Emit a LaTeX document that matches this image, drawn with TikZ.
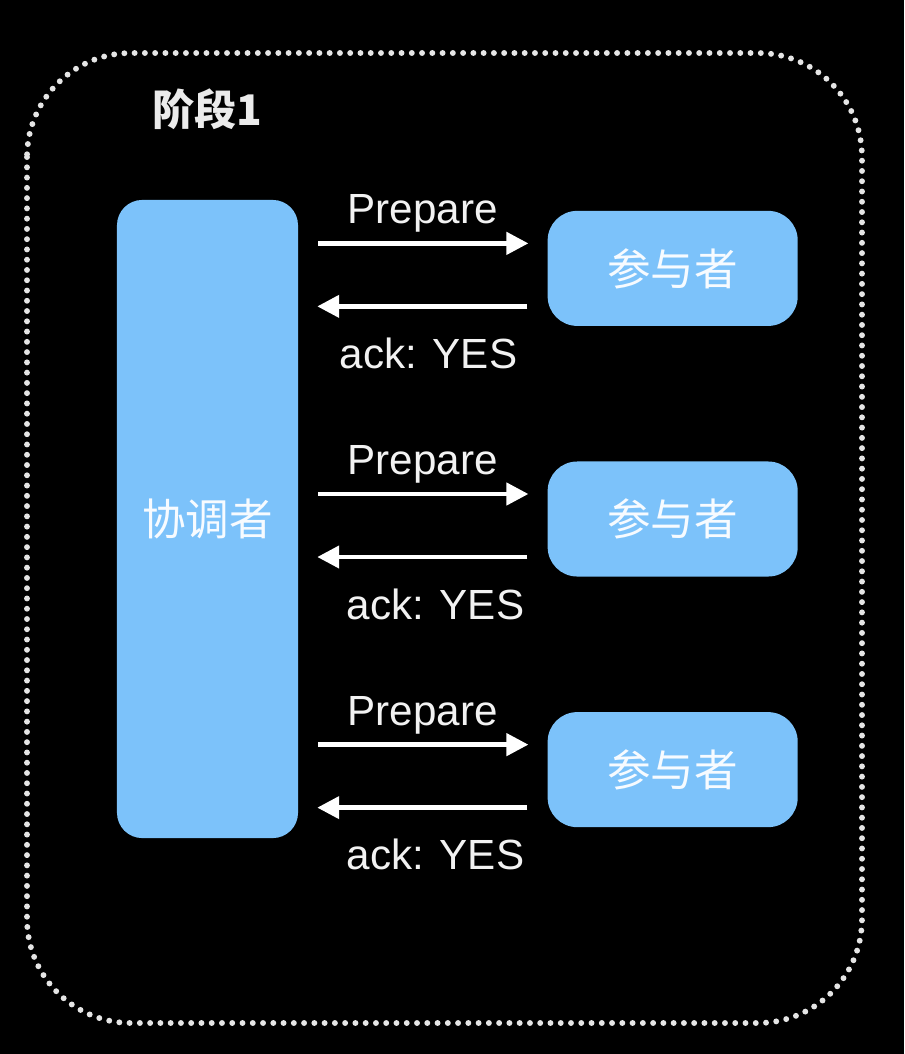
\documentclass[tikz,border=0pt]{standalone}
\usepackage{fontspec}
\setmainfont{Liberation Sans}
\newfontfamily\cjk{Noto Sans CJK SC}
\usepackage{tikz}
\usetikzlibrary{arrows.meta,positioning,calc}
\definecolor{boxblue}{RGB}{124,194,250}

\begin{document}
\begin{tikzpicture}[x=0.025cm, y=-0.025cm,
        actor/.style={fill=boxblue, inner sep=0pt, align=center,
                      text=white!94!boxblue, font=\cjk\fontsize{31}{36}\selectfont},
        coordinator/.style={actor, rounded corners=18pt, minimum width=4.525cm, minimum height=15.95cm},
        participant/.style={actor, rounded corners=21pt, minimum width=6.25cm, minimum height=2.875cm},
        title/.style={text=white!92!black, inner sep=0pt, font=\cjk\bfseries\fontsize{30}{36}\selectfont},
        msg/.style={white, line width=3.2pt, -{Triangle[length=15.6pt, width=15.6pt]},
                    shorten <=14.2pt, shorten >=13.5pt},
        lbl/.style={text=white!95!black, inner sep=0pt, font=\fontsize{30}{36}\selectfont},
        frame/.style={white!90!black, line width=4.2pt, line cap=round,
                      dash pattern=on 0pt off 7.3pt, rounded corners=74pt}
    ]
        \fill[black] (0,0) rectangle (904,1054);
        \draw[frame] (27,53) rectangle (862,1023);

        \node[coordinator] (coord) at (207.5,519) {协调者};
        \node[participant, right=6.225cm of coord] (p2) {参与者};
        \node[participant, above=3.375cm of p2] (p1) {参与者};
        \node[participant, below=3.375cm of p2] (p3) {参与者};
        \node[title, above=1.75cm of coord] (stage) {阶段1};

        % prepare / ack for each participant
        \foreach \i/\dx in {1/4pt, 2/9pt, 3/9pt} {
            \draw[msg] ($(coord.east |- p\i.west)+(0,-25)$) -- ($(p\i.west)+(0,-25)$)
                node[lbl, midway, above=6pt] {Prepare};
            \draw[msg] ($(p\i.west)+(0,38)$) -- ($(coord.east |- p\i.west)+(0,38)$)
                node[lbl, midway, below=21pt, xshift=\dx] {ack: YES};
        }
    \end{tikzpicture}
\end{document}
